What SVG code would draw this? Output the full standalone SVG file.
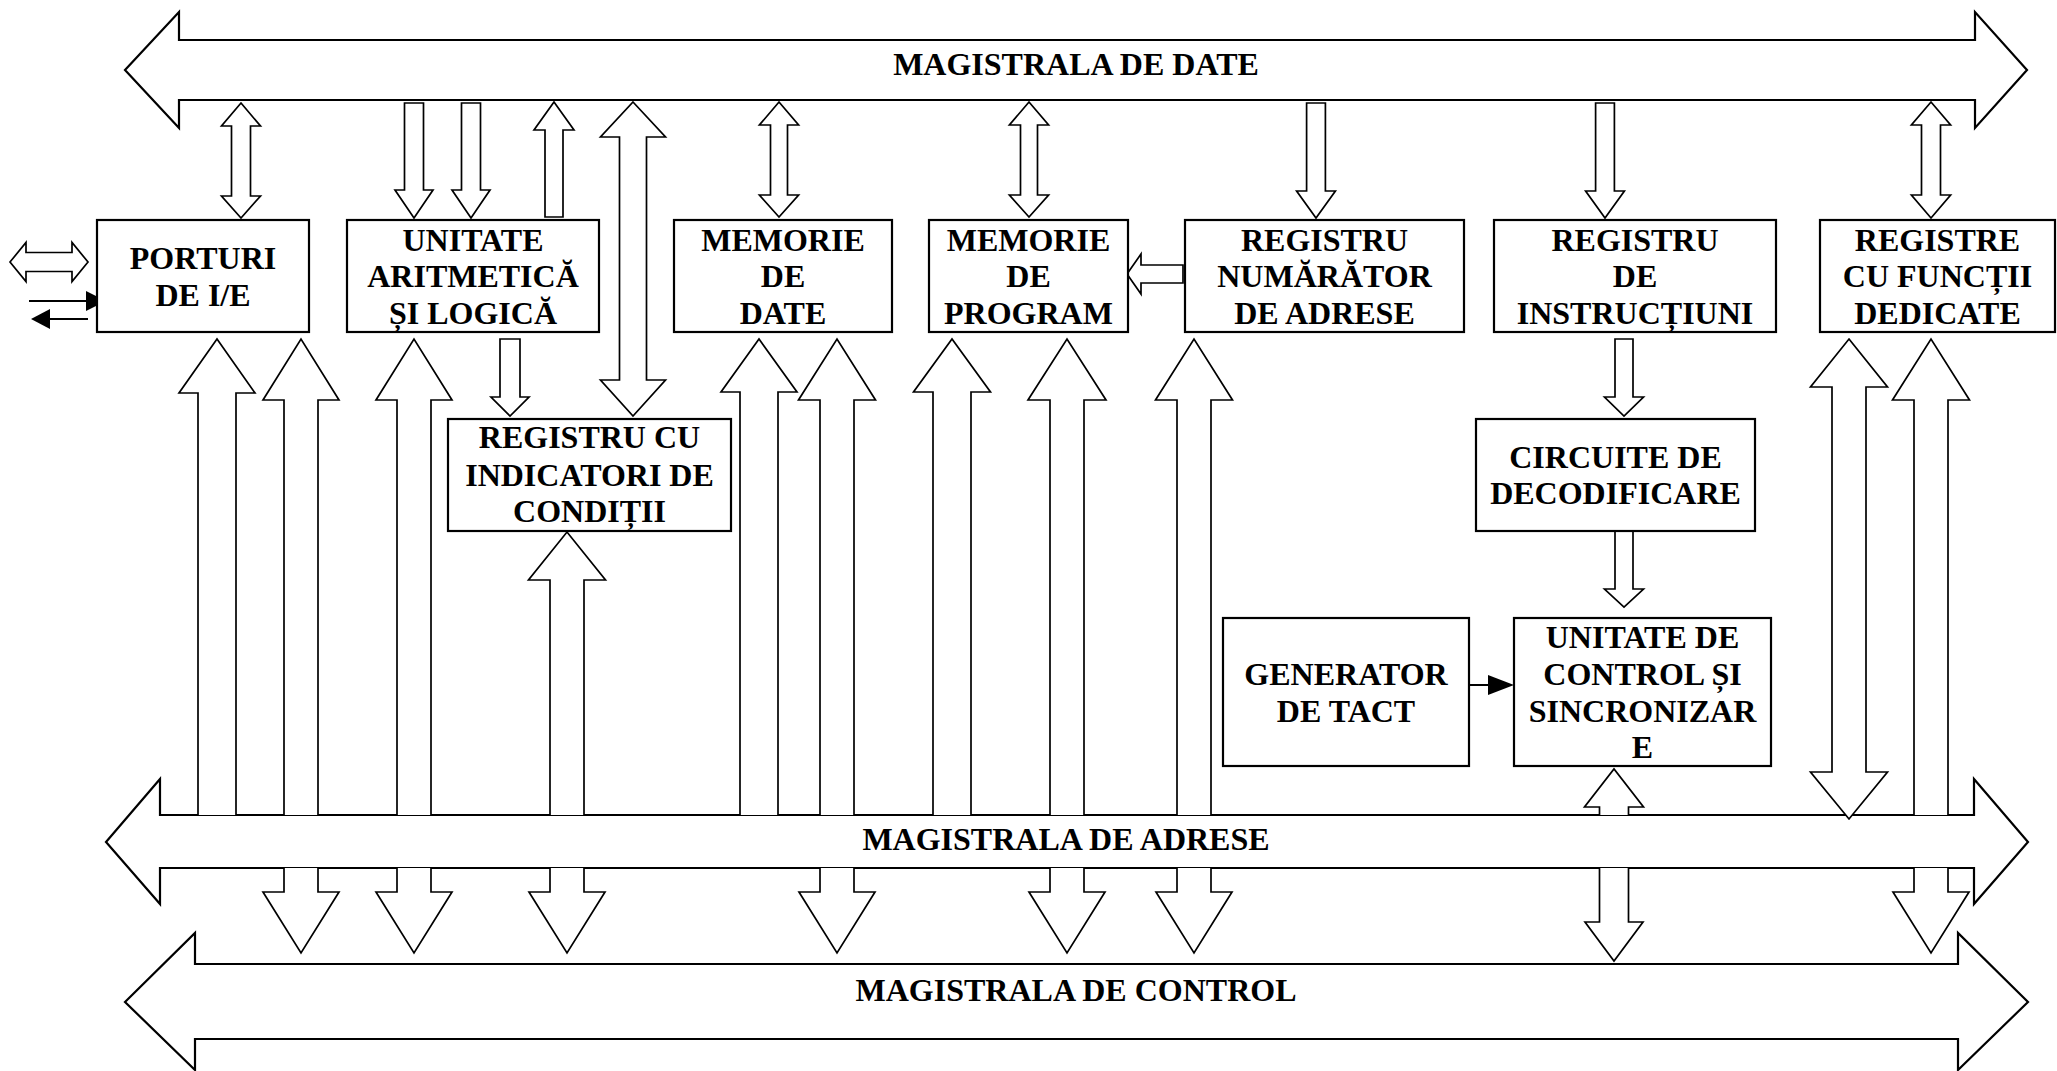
<svg xmlns="http://www.w3.org/2000/svg" width="2057" height="1071" viewBox="0 0 2057 1071">
<style>
.bg{fill:#fff}
.bus{fill:#fff;stroke:#000;stroke-width:2.2;stroke-linejoin:miter}
.box{fill:#fff;stroke:#000;stroke-width:2.2}
.arr{fill:#fff;stroke:#000;stroke-width:1.7;stroke-linejoin:miter}
.ln{stroke:#000;stroke-width:2;fill:none}
.fh{fill:#000;stroke:none}
text{font-family:"Liberation Serif","Times New Roman",serif;font-weight:bold;font-size:32px;text-anchor:middle;fill:#000}
</style>
<rect class="bg" x="0" y="0" width="2057" height="1071"/>

<g id="bus-date">
<polygon class="bus" points="125,70 179,12 179,40 1975,40 1975,12 2027,70 1975,128 1975,100 179,100 179,128"/>
<text x="1076" y="75">MAGISTRALA DE DATE</text>
</g>
<g id="bus-adrese">
<polygon class="bus" points="106,842 160,779 160,815 1974,815 1974,779 2028,842 1974,904 1974,868 160,868 160,904"/>
<text x="1066" y="850">MAGISTRALA DE ADRESE</text>
</g>
<g id="bus-control">
<polygon class="bus" points="125,1002 195,933 195,964 1958,964 1958,933 2028,1002 1958,1070 1958,1039 195,1039 195,1070"/>
<text x="1076" y="1001">MAGISTRALA DE CONTROL</text>
</g>

<g id="connectors">
<!-- data bus links -->
<path class="arr" d="M241,103 L260.5,126 H250.5 V196 H260.5 L241,218 L221.5,196 H231.5 V126 H221.5 Z"/>
<path class="arr" d="M404.5,103 H423.5 V190 H433 L414,218 L395,190 H404.5 Z"/>
<path class="arr" d="M461.5,103 H480.5 V190 H490 L471,218 L452,190 H461.5 Z"/>
<path class="arr" d="M554,102 L574,130 H563 V217 H545 V130 H534 Z"/>
<path class="arr" d="M633,102 L665.5,137 H646.5 V380 H665.5 L633,416 L600.5,380 H619.5 V137 H600.5 Z"/>
<path class="arr" d="M779,102 L798.6,125 H787.5 V195 H798.6 L779,217 L759.4,195 H770.5 V125 H759.4 Z"/>
<path class="arr" d="M1029,102 L1048.6,125 H1037.5 V195 H1048.6 L1029,217 L1009.4,195 H1020.5 V125 H1009.4 Z"/>
<path class="arr" d="M1306.6,103 H1325.4 V191 H1335.4 L1316,218 L1296.6,191 H1306.6 Z"/>
<path class="arr" d="M1595.6,103 H1614.4 V191 H1624.4 L1605,218 L1585.6,191 H1595.6 Z"/>
<path class="arr" d="M1931,102 L1950.6,125 H1940.5 V195 H1950.6 L1931,218 L1911.4,195 H1921.5 V125 H1911.4 Z"/>
<!-- external I/O -->
<path class="arr" d="M10,262 L26,242.5 V252.5 H72 V242.5 L88,262 L72,281.5 V271.5 H26 V281.5 Z"/>
<line class="ln" x1="29" y1="301" x2="88" y2="301"/>
<polygon class="fh" points="86,291 106,301 86,311"/>
<line class="ln" x1="48" y1="319" x2="88" y2="319"/>
<polygon class="fh" points="50,309 31,319 50,329"/>
<!-- internal -->
<path class="arr" d="M500,339 H520 V397 H529 L510,416 L491,397 H500 Z"/>
<path class="arr" d="M1183,265 V283 H1141 V294 L1127,274 L1141,254 V265 Z"/>
<path class="arr" d="M1615,339 H1633 V397 H1643.5 L1624,416 L1604.5,397 H1615 Z"/>
<path class="arr" d="M1615,531 V589 H1604.5 L1624,607 L1643.5,589 H1633 V531"/>
<line class="ln" x1="1469" y1="685" x2="1490" y2="685"/>
<polygon class="fh" points="1488,675 1514,685 1488,695"/>
<!-- address bus up links -->
<path class="arr" d="M198,815 V393 H179 L217,339 L255,393 H236 V815"/>
<path class="arr" d="M284,815 V400 H263 L301,339 L339,400 H318 V815"/>
<path class="arr" d="M397,815 V400 H376 L414,339 L452,400 H431 V815"/>
<path class="arr" d="M550,815 V580 H528.5 L567,532 L605.5,580 H584 V815"/>
<path class="arr" d="M740,815 V392 H721 L759,339 L797,392 H778 V815"/>
<path class="arr" d="M820,815 V400 H798.5 L837,339 L875.5,400 H854 V815"/>
<path class="arr" d="M933,815 V392 H913.5 L952,339 L990.5,392 H971 V815"/>
<path class="arr" d="M1050,815 V400 H1028 L1067,339 L1106,400 H1084 V815"/>
<path class="arr" d="M1177,815 V400 H1155.5 L1194,339 L1232.5,400 H1211 V815"/>
<path class="arr" d="M1914,815 V400 H1892.5 L1931,339 L1969.5,400 H1948 V815"/>
<path class="arr" d="M1599.5,815 V807 H1584.5 L1614,769 L1643.5,807 H1628.5 V815"/>
<path class="arr" d="M1849,339 L1887.5,387 H1866 V772 H1887.5 L1849,819 L1810.5,772 H1832 V387 H1810.5 Z"/>
<!-- control bus links -->
<path class="arr" d="M284,868 V892 H263 L301,953 L339,892 H318 V868"/>
<path class="arr" d="M397,868 V892 H376 L414,953 L452,892 H431 V868"/>
<path class="arr" d="M550,868 V892 H529 L567,953 L605,892 H584 V868"/>
<path class="arr" d="M820,868 V892 H799 L837,953 L875,892 H854 V868"/>
<path class="arr" d="M1050,868 V892 H1029 L1067,953 L1105,892 H1084 V868"/>
<path class="arr" d="M1177,868 V892 H1156 L1194,953 L1232,892 H1211 V868"/>
<path class="arr" d="M1914,868 V892 H1893 L1931,953 L1969,892 H1948 V868"/>
<path class="arr" d="M1599.5,868 V922 H1585 L1614,961 L1643,922 H1628.5 V868"/>
</g>

<g id="porturi">
<rect class="box" x="97" y="220" width="212" height="112"/>
<text x="203" y="269">PORTURI</text>
<text x="203" y="306">DE I/E</text>
</g>
<g id="ual">
<rect class="box" x="347" y="220" width="252" height="112"/>
<text x="473" y="251">UNITATE</text>
<text x="473" y="287">ARITMETICĂ</text>
<text x="473" y="324">ȘI LOGICĂ</text>
</g>
<g id="memorie-date">
<rect class="box" x="674" y="220" width="218" height="112"/>
<text x="783" y="251">MEMORIE</text>
<text x="783" y="287">DE</text>
<text x="783" y="324">DATE</text>
</g>
<g id="memorie-program">
<rect class="box" x="929" y="220" width="199" height="112"/>
<text x="1028.5" y="251">MEMORIE</text>
<text x="1028.5" y="287">DE</text>
<text x="1028.5" y="324">PROGRAM</text>
</g>
<g id="registru-numarator">
<rect class="box" x="1185" y="220" width="279" height="112"/>
<text x="1324.5" y="251">REGISTRU</text>
<text x="1324.5" y="287">NUMĂRĂTOR</text>
<text x="1324.5" y="324">DE ADRESE</text>
</g>
<g id="registru-instructiuni">
<rect class="box" x="1494" y="220" width="282" height="112"/>
<text x="1635" y="251">REGISTRU</text>
<text x="1635" y="287">DE</text>
<text x="1635" y="324">INSTRUCȚIUNI</text>
</g>
<g id="registre-dedicate">
<rect class="box" x="1820" y="220" width="235" height="112"/>
<text x="1937.5" y="251">REGISTRE</text>
<text x="1937.5" y="287">CU FUNCȚII</text>
<text x="1937.5" y="324">DEDICATE</text>
</g>
<g id="registru-indicatori">
<rect class="box" x="448" y="419" width="283" height="112"/>
<text x="589.5" y="448">REGISTRU CU</text>
<text x="589.5" y="486">INDICATORI DE</text>
<text x="589.5" y="522">CONDIȚII</text>
</g>
<g id="circuite-decodificare">
<rect class="box" x="1476" y="419" width="279" height="112"/>
<text x="1615.5" y="468">CIRCUITE DE</text>
<text x="1615.5" y="504">DECODIFICARE</text>
</g>
<g id="generator-tact">
<rect class="box" x="1223" y="618" width="246" height="148"/>
<text x="1346" y="685">GENERATOR</text>
<text x="1346" y="722">DE TACT</text>
</g>
<g id="unitate-control">
<rect class="box" x="1514" y="618" width="257" height="148"/>
<text x="1642.5" y="648">UNITATE DE</text>
<text x="1642.5" y="685">CONTROL ȘI</text>
<text x="1642.5" y="722">SINCRONIZAR</text>
<text x="1642.5" y="758">E</text>
</g>
</svg>
